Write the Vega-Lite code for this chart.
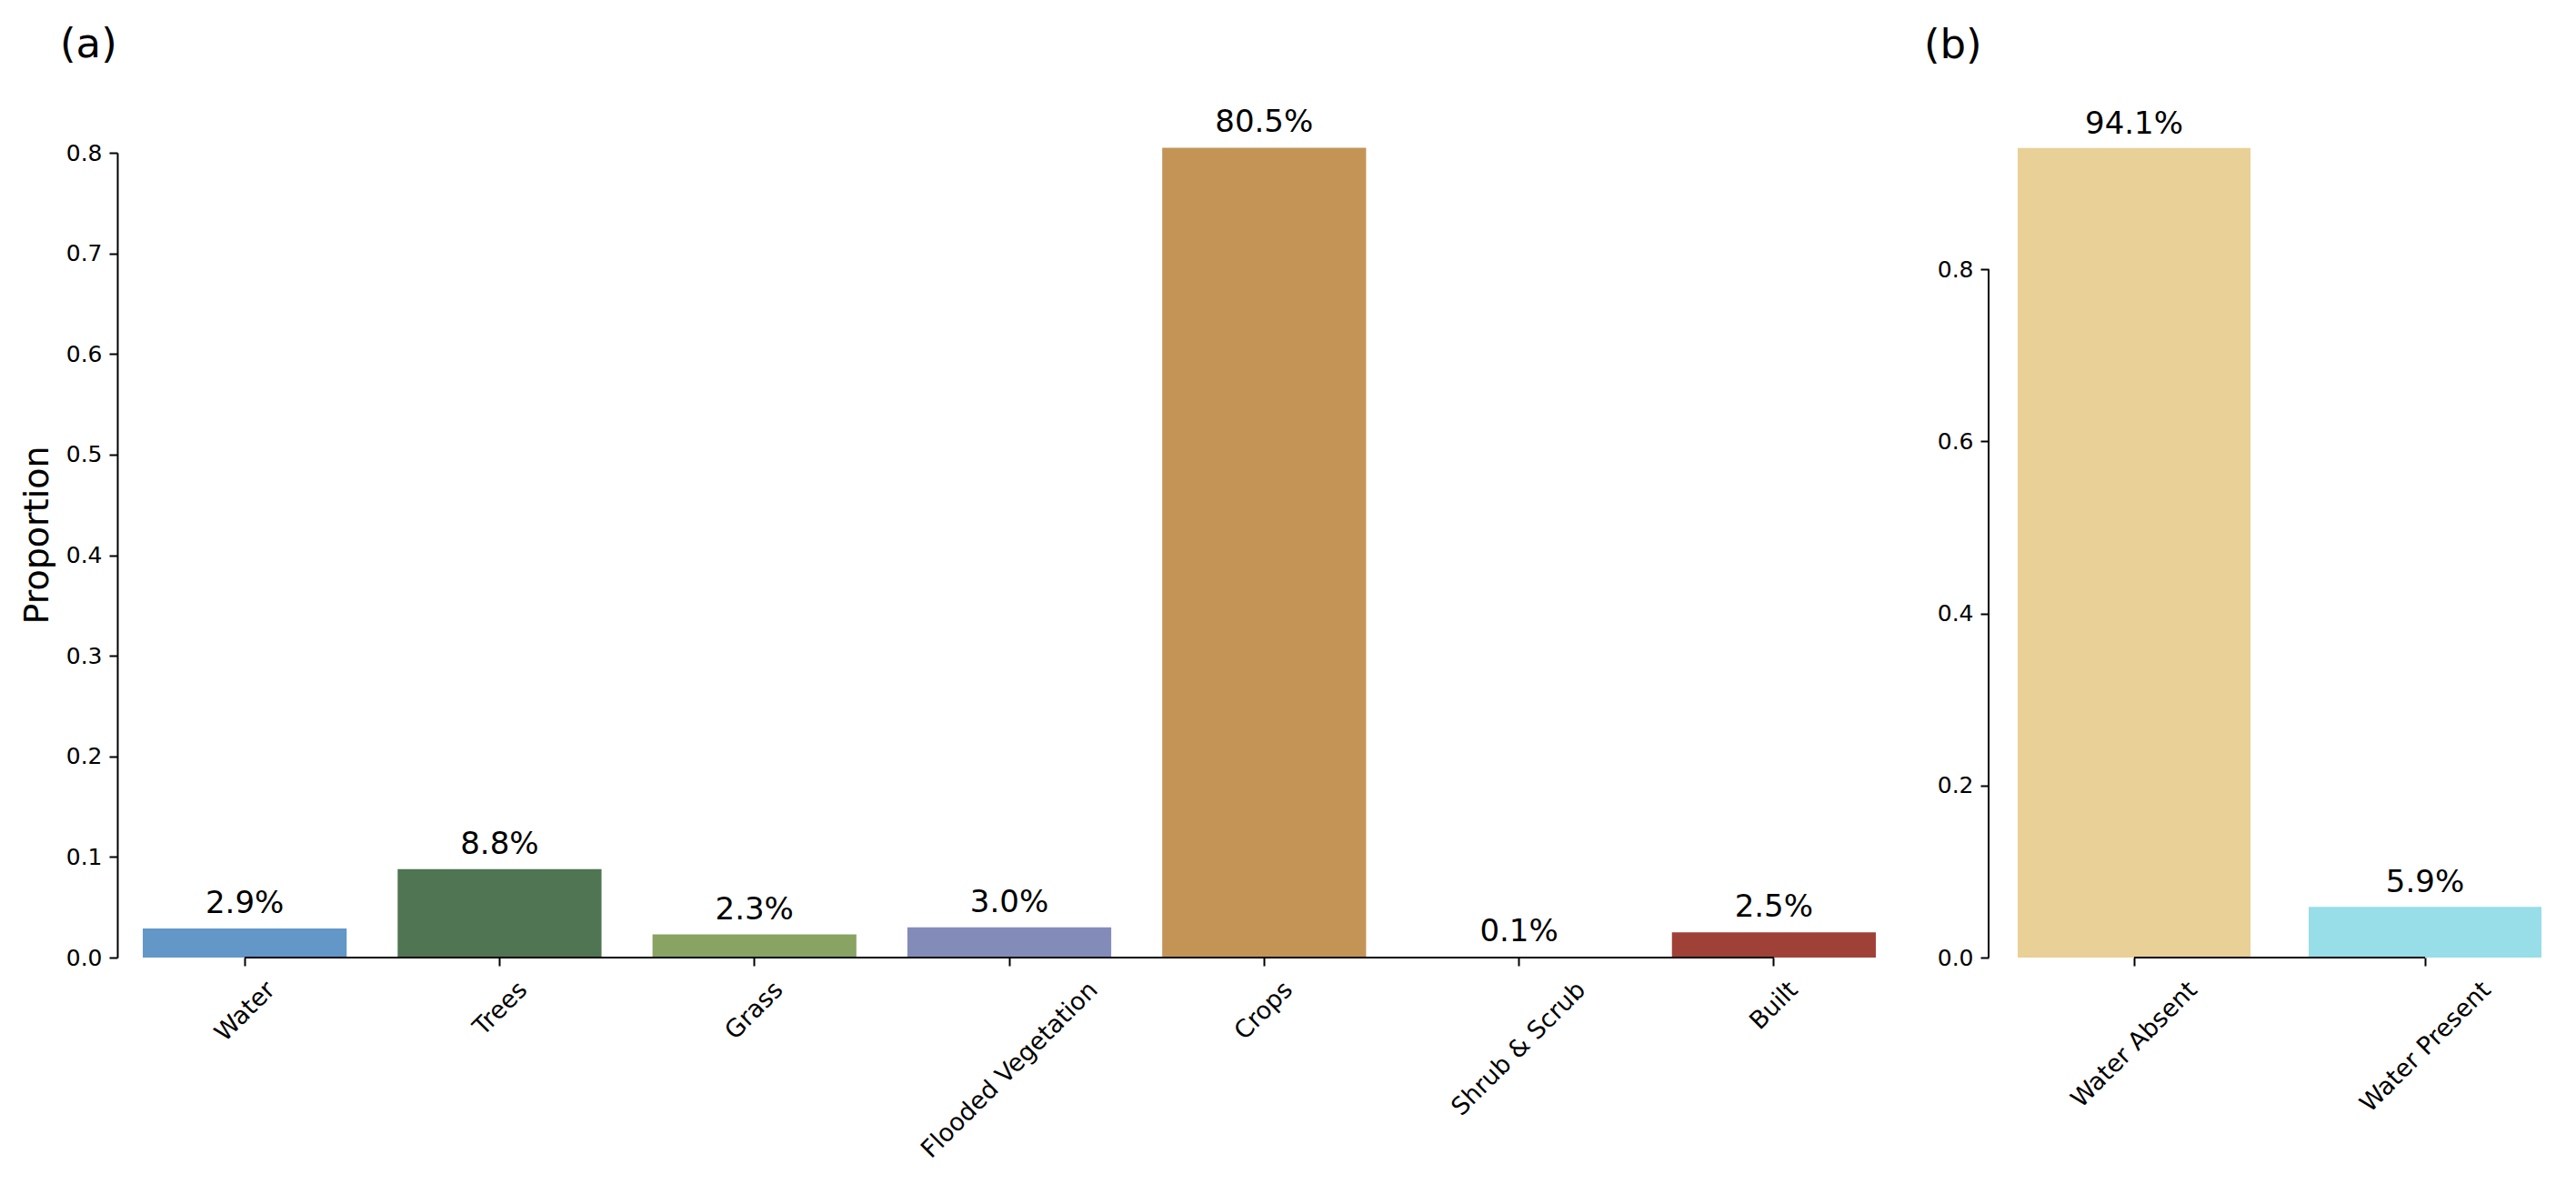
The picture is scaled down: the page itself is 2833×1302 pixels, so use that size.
{
  "$schema": "https://vega.github.io/schema/vega-lite/v6.json",
  "padding": {"left": 22, "top": 27, "right": 0, "bottom": 0},
  "background": "white",
  "spacing": 25,
  "resolve": {"scale": {"color": "independent"}},
  "config": {
    "view": {"stroke": null},
    "font": "DejaVu Sans",
    "axis": {"grid": false, "domainColor": "black", "domainWidth": 2, "tickColor": "black", "tickWidth": 2, "tickSize": 9, "labelColor": "black", "labelFont": "DejaVu Sans", "labelLimit": 0, "titleColor": "black", "titleFont": "DejaVu Sans", "titleFontWeight": "normal"},
    "title": {"color": "black", "font": "DejaVu Sans", "fontWeight": "normal", "fontSize": 45, "anchor": "start", "frame": "group"}
  },
  "datasets": {
    "landcover": [
      {"class": "Water", "proportion": 0.029},
      {"class": "Trees", "proportion": 0.088},
      {"class": "Grass", "proportion": 0.023},
      {"class": "Flooded Vegetation", "proportion": 0.030},
      {"class": "Crops", "proportion": 0.805},
      {"class": "Shrub & Scrub", "proportion": 0.001},
      {"class": "Built", "proportion": 0.025}
    ],
    "water": [
      {"class": "Water Absent", "proportion": 0.941},
      {"class": "Water Present", "proportion": 0.059}
    ]
  },
  "hconcat": [
    {
      "title": {"text": "(a)", "dx": -63, "baseline": "alphabetic", "offset": 10},
      "width": 1962,
      "height": 885,
      "data": {"name": "landcover"},
      "layer": [
        {
          "mark": {"type": "bar"},
          "encoding": {
            "x": {
              "field": "class", "type": "nominal", "title": null,
              "scale": {"domain": ["Water", "Trees", "Grass", "Flooded Vegetation", "Crops", "Shrub & Scrub", "Built"], "paddingInner": 0.2, "paddingOuter": 0.1},
              "axis": {
                "domain": false, "labelAngle": -45, "labelAlign": "right", "labelBaseline": "middle", "labelFontSize": 27, "labelPadding": 22,
                "labelOffset": {
                  "condition": [
                    {"test": "datum.value === 'Water'", "value": 29},
                    {"test": "datum.value === 'Trees'", "value": 26},
                    {"test": "datum.value === 'Grass'", "value": 27},
                    {"test": "datum.value === 'Flooded Vegetation'", "value": 93},
                    {"test": "datum.value === 'Crops'", "value": 27},
                    {"test": "datum.value === 'Shrub & Scrub'", "value": 69},
                    {"test": "datum.value === 'Built'", "value": 22}
                  ],
                  "value": 27
                }
              }
            },
            "y": {
              "field": "proportion", "type": "quantitative",
              "scale": {"domain": [0, 0.8], "nice": false},
              "axis": {"title": "Proportion", "titleFontSize": 38, "titlePadding": 12, "titleY": 420, "values": [0, 0.1, 0.2, 0.3, 0.4, 0.5, 0.6, 0.7, 0.8], "format": ".1f", "labelFontSize": 25, "labelPadding": 8}
            },
            "color": {
              "field": "class", "type": "nominal", "legend": null,
              "scale": {"domain": ["Water", "Trees", "Grass", "Flooded Vegetation", "Crops", "Shrub & Scrub", "Built"], "range": ["#6397c8", "#4f7552", "#88a362", "#838cb9", "#c49457", "#d9c07a", "#a04137"]}
            }
          }
        },
        {
          "mark": {"type": "text", "baseline": "alphabetic", "dy": -17, "fontSize": 34, "color": "black"},
          "encoding": {
            "x": {"field": "class", "type": "nominal"},
            "y": {"field": "proportion", "type": "quantitative"},
            "text": {"field": "proportion", "type": "quantitative", "format": ".1%"}
          }
        },
        {
          "data": {"values": [{}]},
          "mark": {"type": "rule", "color": "black", "strokeWidth": 2},
          "encoding": {"x": {"datum": "Water"}, "x2": {"datum": "Built"}, "y": {"datum": 0}}
        }
      ]
    },
    {
      "title": {"text": "(b)", "dx": -71, "baseline": "alphabetic", "offset": 11},
      "width": 640,
      "height": 885,
      "data": {"name": "water"},
      "layer": [
        {
          "layer": [
            {
              "mark": {"type": "bar"},
              "encoding": {
                "x": {
                  "field": "class", "type": "nominal", "title": null,
                  "scale": {"domain": ["Water Absent", "Water Present"], "paddingInner": 0.2, "paddingOuter": 0.1},
                  "axis": {
                    "domain": false, "labelAngle": -45, "labelAlign": "right", "labelBaseline": "middle", "labelFontSize": 27, "labelPadding": 22,
                    "labelOffset": {
                      "condition": [
                        {"test": "datum.value === 'Water Absent'", "value": 65},
                        {"test": "datum.value === 'Water Present'", "value": 68}
                      ],
                      "value": 65
                    }
                  }
                },
                "y": {
                  "field": "proportion", "type": "quantitative",
                  "scale": {"domain": [0, 0.9355], "nice": false},
                  "axis": {"title": null, "domain": false, "values": [0, 0.2, 0.4, 0.6, 0.8], "format": ".1f", "labelFontSize": 25, "labelPadding": 8}
                },
                "color": {
                  "field": "class", "type": "nominal", "legend": null,
                  "scale": {"domain": ["Water Absent", "Water Present"], "range": ["#e9d096", "#97dee8"]}
                }
              }
            },
            {
              "mark": {"type": "text", "baseline": "alphabetic", "dy": -16, "fontSize": 34, "color": "black"},
              "encoding": {
                "x": {"field": "class", "type": "nominal"},
                "y": {"field": "proportion", "type": "quantitative"},
                "text": {"field": "proportion", "type": "quantitative", "format": ".1%"}
              }
            },
            {
              "data": {"values": [{}]},
              "mark": {"type": "rule", "color": "black", "strokeWidth": 2},
              "encoding": {"x": {"datum": "Water Absent"}, "x2": {"datum": "Water Present"}, "y": {"datum": 0}}
            }
          ]
        },
        {
          "data": {"values": [{}]},
          "mark": {"type": "rule", "color": "black", "strokeWidth": 2},
          "encoding": {
            "x": {"datum": 0, "type": "quantitative", "scale": {"domain": [0, 1]}, "axis": null},
            "y": {"datum": 0, "type": "quantitative"},
            "y2": {"datum": 0.8}
          }
        }
      ],
      "resolve": {"scale": {"x": "independent"}}
    }
  ]
}
